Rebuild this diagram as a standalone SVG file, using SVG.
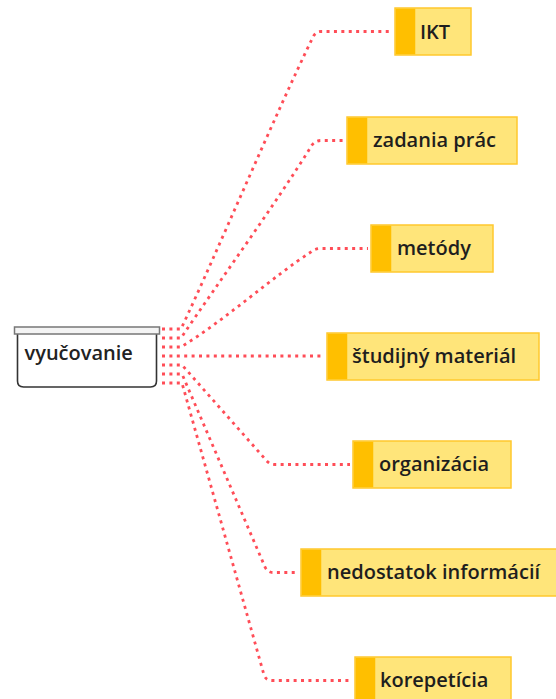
<svg xmlns="http://www.w3.org/2000/svg" width="556" height="699" viewBox="0 0 556 699">
<style>
.bg{fill:#ffffff}
.conn path{fill:none;stroke:#ff4d57;stroke-width:2.8;stroke-dasharray:3 4.4}
.box{fill:#ffe57a;stroke:#ffc82e;stroke-width:1.5}
.stripe{fill:#ffbf00}
.lbl{font-family:"Open Sans","Noto Sans",sans-serif;font-weight:600;font-size:20px;fill:#1e1e1e}
.root-lbl{font-family:"Open Sans","Noto Sans",sans-serif;font-weight:600;font-size:20px;fill:#222}
.root-bar{fill:#f4f4f4;stroke:#777;stroke-width:1.5}
.root-body{fill:#ffffff;stroke:#333;stroke-width:1.6}
</style>
<rect class="bg" x="0" y="0" width="556" height="699"/>
<g id="connectors" class="conn">
<path d="M162,329 H181 C218,250 275,115 313,37 Q315.5,31.5 321,31.5 H393"/>
<path d="M162,338 H181 C220,280 275,205 312,145 Q315.5,140.5 321,140.5 H344"/>
<path d="M162,347 H181 C225,320 275,275 311,252 Q315,248.5 321,248.5 H368"/>
<path d="M162,356 H324"/>
<path d="M162,365 H182 L266,460 Q269.5,464.5 275,464.5 H350"/>
<path d="M162,374 H182 L265,567 Q267.5,572.5 273,572.5 H298"/>
<path d="M162,383 H182 L264,675 Q266,680.5 272,680.5 H352"/>
</g>
<g id="root">
<path class="root-body" d="M17.5,334 V381 Q17.5,387 23.5,387 H150.5 Q156.5,387 156.5,381 V334"/>
<rect class="root-bar" x="14.5" y="327" width="145" height="7"/>
<text class="root-lbl" x="24.5" y="360">vyučovanie</text>
</g>
<g id="n-ikt">
<rect class="box" x="395" y="8" width="76" height="47"/>
<rect class="stripe" x="395.75" y="8.75" width="19.5" height="45.5"/>
<text class="lbl" x="420" y="38.5">IKT</text>
</g>
<g id="n-zadania">
<rect class="box" x="347" y="117" width="170" height="47"/>
<rect class="stripe" x="347.75" y="117.75" width="19.5" height="45.5"/>
<text class="lbl" x="373" y="147">zadania prác</text>
</g>
<g id="n-metody">
<rect class="box" x="371" y="225" width="122" height="47"/>
<rect class="stripe" x="371.75" y="225.75" width="19.5" height="45.5"/>
<text class="lbl" x="397" y="255">metódy</text>
</g>
<g id="n-studijny">
<rect class="box" x="327" y="333" width="212" height="47"/>
<rect class="stripe" x="327.75" y="333.75" width="19.5" height="45.5"/>
<text class="lbl" x="352" y="363">študijný materiál</text>
</g>
<g id="n-organizacia">
<rect class="box" x="353" y="441" width="158" height="47"/>
<rect class="stripe" x="353.75" y="441.75" width="19.5" height="45.5"/>
<text class="lbl" x="379" y="471">organizácia</text>
</g>
<g id="n-nedostatok">
<rect class="box" x="301" y="549" width="264" height="47"/>
<rect class="stripe" x="301.75" y="549.75" width="19.5" height="45.5"/>
<text class="lbl" x="327" y="579">nedostatok informácií</text>
</g>
<g id="n-korepeticia">
<rect class="box" x="355" y="657" width="156" height="47"/>
<rect class="stripe" x="355.75" y="657.75" width="19.5" height="45.5"/>
<text class="lbl" x="380" y="687">korepetícia</text>
</g>
</svg>
